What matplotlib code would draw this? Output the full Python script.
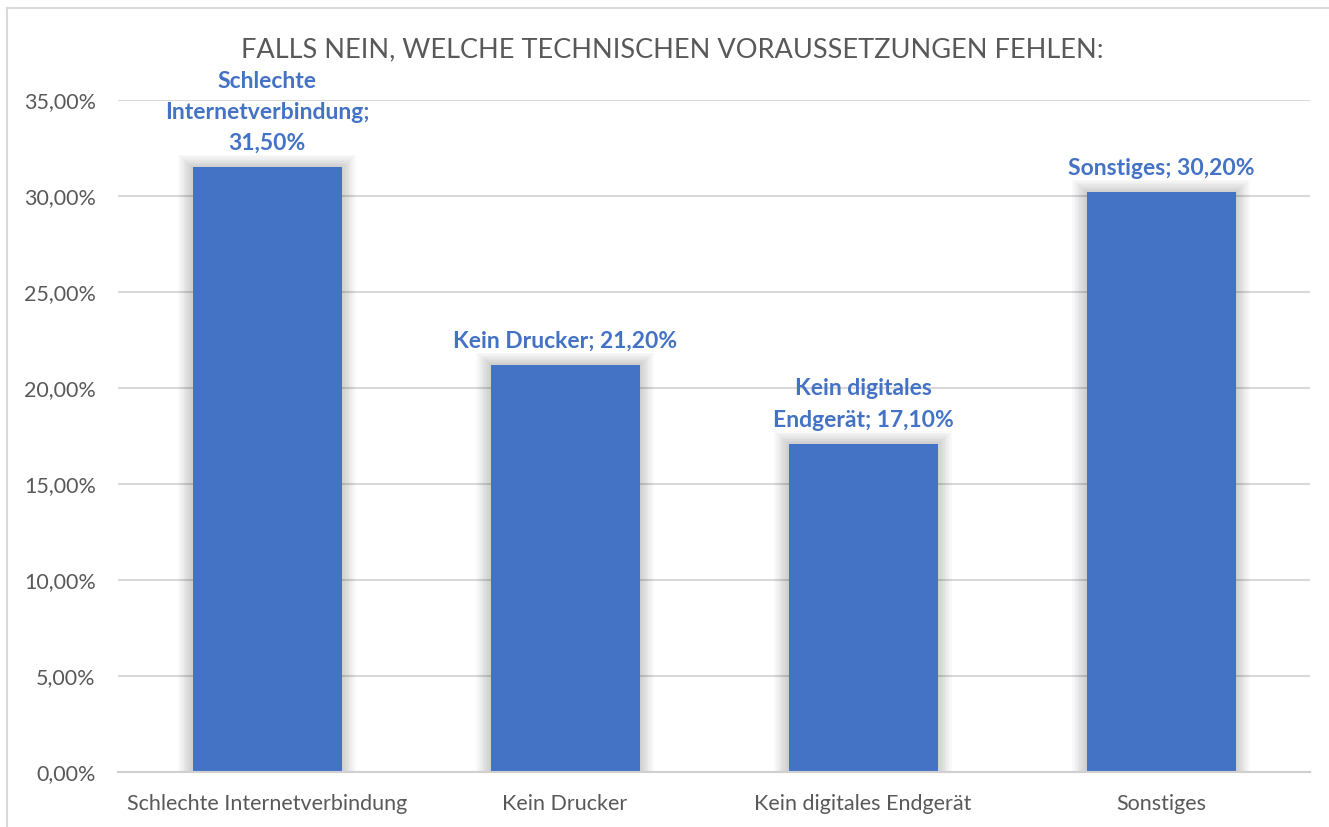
import matplotlib.pyplot as plt
from matplotlib.ticker import FuncFormatter
from matplotlib.lines import Line2D

plt.rcParams['font.family'] = ['Lato', 'DejaVu Sans']

categories = ["Schlechte Internetverbindung", "Kein Drucker", "Kein digitales Endgerät", "Sonstiges"]
values = [31.5, 21.2, 17.1, 30.2]
label_texts = ["Schlechte\nInternetverbindung;\n31,50%", "Kein Drucker; 21,20%",
               "Kein digitales\nEndgerät; 17,10%", "Sonstiges; 30,20%"]
yticks = [0, 5, 10, 15, 20, 25, 30, 35]

blue = "#4472C4"
grey_text = "#595959"
grid = "#D9D9D9"

fig = plt.figure(figsize=(13.29, 8.27), dpi=100)
ax = fig.add_axes([118 / 1329, 1 - 772 / 827, (1310 - 118) / 1329, (772 - 100) / 827])

x = list(range(len(categories)))

# soft glow behind the bars
for k in range(8, 0, -1):
    dx = k * 0.006
    dy = k * 0.08
    ax.bar(x, [v + dy for v in values], width=0.5 + 2 * dx, color="black",
           alpha=0.022, zorder=2, linewidth=0)

ax.bar(x, values, width=0.5, color=blue, zorder=3, linewidth=0)

for xi, v, t in zip(x, values, label_texts):
    ax.annotate(t, (xi, v), xytext=(0, 13), textcoords="offset pixels",
                ha="center", va="bottom", color=blue, fontsize=16.5,
                fontweight="bold", linespacing=1.6, zorder=5)

ax.set_xlim(-0.5, len(categories) - 0.5)
ax.set_ylim(0, 35)
ax.set_yticks(yticks)
ax.yaxis.set_major_formatter(FuncFormatter(lambda v, p: f"{v:.2f}".replace(".", ",") + "%"))
ax.set_xticks(x)
ax.set_xticklabels(categories)
ax.tick_params(axis="both", length=0, labelsize=15.5, colors=grey_text)
ax.tick_params(axis="y", pad=16)
ax.tick_params(axis="x", pad=16)
ax.grid(axis="y", color=grid, linewidth=1.5, zorder=0)
for s in ["top", "right", "left"]:
    ax.spines[s].set_visible(False)
ax.spines["bottom"].set_color("#D0D0D0")
ax.spines["bottom"].set_linewidth(1.5)
ax.spines["bottom"].set_zorder(4)

fig.text(672 / 1329, 1 - 50 / 827, "FALLS NEIN, WELCHE TECHNISCHEN VORAUSSETZUNGEN FEHLEN:",
         ha="center", va="center", fontsize=19.5, color=grey_text)

# chart border
fig.add_artist(Line2D([7 / 1329, 1], [1 - 8 / 827, 1 - 8 / 827], color=grid, linewidth=1.5))
fig.add_artist(Line2D([7 / 1329, 7 / 1329], [0, 1 - 8 / 827], color=grid, linewidth=1.5))

fig.savefig("out.png", dpi=100)
